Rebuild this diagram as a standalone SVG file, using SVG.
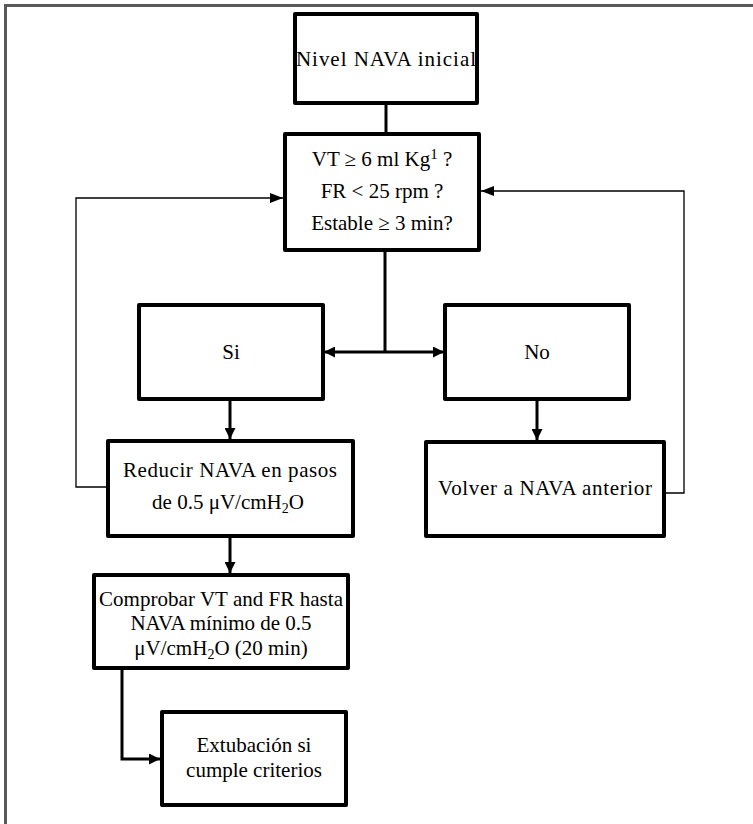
<svg xmlns="http://www.w3.org/2000/svg" width="753" height="824" viewBox="0 0 753 824">
<style>
.box{fill:#fff;stroke:#000;stroke-width:4;stroke-linejoin:round}
.t{font-family:"Liberation Serif","Times New Roman",serif;font-size:21px;fill:#000;text-anchor:middle}
.thick{fill:none;stroke:#000;stroke-width:3}
.thin{fill:none;stroke:#000;stroke-width:1.3}
</style>
<defs>
<marker id="ah" markerUnits="userSpaceOnUse" markerWidth="11" markerHeight="11" refX="11" refY="5.5" orient="auto">
<path d="M0,0 L11,5.5 L0,11 z" fill="#000"/>
</marker>
<marker id="at" markerUnits="userSpaceOnUse" markerWidth="13" markerHeight="10" refX="13" refY="5" orient="auto">
<path d="M0,0 L13,5 L0,10 z" fill="#000"/>
</marker>
</defs>
<rect x="0" y="0" width="753" height="824" fill="#fff"/>
<rect x="4" y="4" width="749" height="3" fill="#595959"/>
<rect x="4" y="4" width="3" height="820" fill="#595959"/>

<g id="connectors">
<line class="thick" x1="386" y1="104" x2="386" y2="134"/>
<line class="thick" x1="385" y1="250" x2="385" y2="352"/>
<line class="thick" x1="385" y1="352" x2="324" y2="352" marker-end="url(#ah)"/>
<line class="thick" x1="385" y1="352" x2="444" y2="352" marker-end="url(#ah)"/>
<line class="thick" x1="230" y1="399" x2="230" y2="439" marker-end="url(#ah)"/>
<line class="thick" x1="537" y1="399" x2="537" y2="440" marker-end="url(#ah)"/>
<line class="thick" x1="230" y1="536" x2="230" y2="573" marker-end="url(#ah)"/>
<path class="thick" d="M122,668 V759 H160" marker-end="url(#ah)"/>
<path class="thin" d="M108,487 H76 V198 H283" marker-end="url(#at)"/>
<path class="thin" d="M664,493 H684 V191 H481" marker-end="url(#at)"/>
</g>

<g id="n1">
<rect class="box" x="295" y="14" width="182" height="89"/>
<text class="t" x="386" y="66" textLength="180" lengthAdjust="spacing">Nivel NAVA inicial</text>
</g>
<g id="n2">
<rect class="box" x="285" y="134" width="194" height="116"/>
<text class="t" x="382" y="166">VT ≥ 6 ml Kg<tspan font-size="15" dy="-7">1</tspan><tspan dy="7"> ?</tspan></text>
<text class="t" x="382" y="198">FR &lt; 25 rpm ?</text>
<text class="t" x="382" y="230">Estable ≥ 3 min?</text>
</g>
<g id="n3">
<rect class="box" x="139" y="305" width="184" height="94"/>
<text class="t" x="231" y="359">Si</text>
</g>
<g id="n4">
<rect class="box" x="445" y="305" width="184" height="94"/>
<text class="t" x="537" y="359">No</text>
</g>
<g id="n5">
<rect class="box" x="108" y="441" width="245" height="95"/>
<text class="t" x="230" y="477" textLength="214" lengthAdjust="spacing">Reducir NAVA en pasos</text>
<text class="t" x="228" y="509">de 0.5 μV/cmH<tspan font-size="14" dy="4">2</tspan><tspan dy="-4">O</tspan></text>
</g>
<g id="n6">
<rect class="box" x="426" y="442" width="238" height="94"/>
<text class="t" x="545" y="495" textLength="214" lengthAdjust="spacing">Volver a NAVA anterior</text>
</g>
<g id="n7">
<rect class="box" x="94" y="575" width="254" height="93"/>
<text class="t" x="221" y="606" textLength="244" lengthAdjust="spacing">Comprobar VT and FR hasta</text>
<text class="t" x="221" y="630">NAVA mínimo de 0.5</text>
<text class="t" x="221" y="655">μV/cmH<tspan font-size="14" dy="4">2</tspan><tspan dy="-4">O (20 min)</tspan></text>
</g>
<g id="n8">
<rect class="box" x="162" y="712" width="184" height="93"/>
<text class="t" x="254" y="752">Extubación si</text>
<text class="t" x="254" y="777">cumple criterios</text>
</g>
</svg>
